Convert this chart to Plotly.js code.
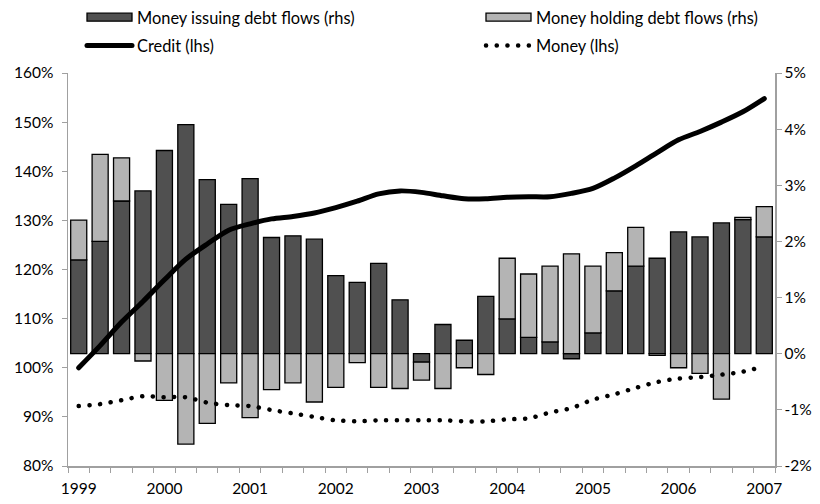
<!DOCTYPE html>
<html>
<head>
<meta charset="utf-8">
<script src="https://cdn.plot.ly/plotly-3.0.1.min.js"></script>
<style>
html,body{margin:0;padding:0;background:#fff;}
#chart{width:820px;height:504px;}
.js-line{stroke-linecap:round !important;stroke-linejoin:round !important;}
</style>
</head>
<body>
<div id="chart"></div>
<script>
// Quarterly categories, 1999Q1 .. 2007Q1
const quarters = [
  '1999Q1','1999Q2','1999Q3','1999Q4','2000Q1','2000Q2','2000Q3','2000Q4',
  '2001Q1','2001Q2','2001Q3','2001Q4','2002Q1','2002Q2','2002Q3','2002Q4',
  '2003Q1','2003Q2','2003Q3','2003Q4','2004Q1','2004Q2','2004Q3','2004Q4',
  '2005Q1','2005Q2','2005Q3','2005Q4','2006Q1','2006Q2','2006Q3','2006Q4',
  '2007Q1'
];
const yearLabels = ['1999','2000','2001','2002','2003','2004','2005','2006','2007'];

// Right-hand scale (% flows)
const moneyIssuing = [1.67, 2.00, 2.72, 2.90, 3.62, 4.08, 3.10, 2.66, 3.12, 2.07, 2.10, 2.04,
  1.39, 1.27, 1.61, 0.96, -0.15, 0.52, 0.24, 1.02, 0.62, 0.29, 0.21, -0.09,
  0.37, 1.12, 1.56, 1.70, 2.17, 2.08, 2.33, 2.39, 2.08];
const moneyHolding = [0.71, 1.55, 0.77, -0.13, -0.83, -1.61, -1.24, -0.52, -1.14, -0.64, -0.52, -0.86,
  -0.60, -0.16, -0.60, -0.62, -0.32, -0.62, -0.25, -0.37, 1.08, 1.13, 1.35, 1.78,
  1.19, 0.68, 0.69, -0.03, -0.25, -0.35, -0.81, 0.04, 0.54];

// Left-hand scale (%)
const credit = [100.0, 104.5, 109.3, 113.5, 117.9, 122.1, 125.2, 128.0, 129.3, 130.3, 130.8, 131.5,
  132.6, 133.9, 135.4, 136.0, 135.7, 135.0, 134.4, 134.4, 134.7, 134.8, 134.8, 135.5,
  136.5, 138.6, 141.1, 143.8, 146.4, 148.1, 150.0, 152.1, 154.8];
const money = [92.2, 92.6, 93.4, 94.2, 94.0, 94.0, 92.9, 92.4, 92.2, 91.4, 90.7, 90.0,
  89.3, 89.1, 89.3, 89.3, 89.3, 89.3, 89.1, 89.1, 89.5, 89.7, 90.9, 91.8,
  93.5, 94.6, 95.9, 97.1, 97.8, 98.1, 98.6, 99.2, 100.3];

const leftTicks = [80, 90, 100, 110, 120, 130, 140, 150, 160];
const leftTickText = ['80%','90%','100%','110%','120%','130%','140%','150%','160%'];
const rightTicks = [-2, -1, 0, 1, 2, 3, 4, 5];
const rightTickText = ['-2%','-1%','0%','1%','2%','3%','4%','5%'];

const xIdx = quarters.map((q, i) => i);
const yearTickVals = quarters.map((q, i) => q.endsWith('Q1') ? i : null).filter(v => v !== null);

const FONT = 'Lato, "Open Sans", sans-serif';
const AXC = '#a0a0a0';
const TICKFONT = {family: FONT, size: 15.5, color: '#000'};
const SWATCH_W = 45;

const traces = [
  {
    type: 'bar', name: 'Money issuing debt flows (rhs)', x: xIdx, y: moneyIssuing,
    yaxis: 'y', legend: 'legend', legendgroup: 'a',
    marker: {color: '#505050', line: {color: '#000', width: 1.3}}
  },
  {
    type: 'bar', name: 'Money holding debt flows (rhs)', x: xIdx, y: moneyHolding,
    yaxis: 'y', legend: 'legend2', legendgroup: 'b',
    marker: {color: '#b4b4b4', line: {color: '#000', width: 1.3}}
  },
  {
    type: 'scatter', mode: 'lines', name: 'Credit (lhs)', x: xIdx, y: credit,
    yaxis: 'y2', legend: 'legend', legendgroup: 'c',
    line: {color: '#000', width: 5, shape: 'spline', smoothing: 0.8}
  },
  {
    type: 'scatter', mode: 'lines', name: 'Money (lhs)', x: xIdx, y: money,
    yaxis: 'y2', legend: 'legend2', legendgroup: 'd',
    line: {color: '#000', width: 4.5, dash: '0.1px,10.6px', shape: 'spline', smoothing: 0.8}
  }
];

const legendBase = {
  orientation: 'v', xanchor: 'left', yanchor: 'top', yref: 'container', xref: 'container',
  font: {family: FONT, size: 16.4, color: '#000'}, bgcolor: 'rgba(0,0,0,0)',
  traceorder: 'grouped', tracegroupgap: 4, itemwidth: SWATCH_W
};

const layout = {
  width: 820, height: 504,
  margin: {l: 67.5, r: 45, t: 73, b: 38, autoexpand: false},
  paper_bgcolor: '#fff', plot_bgcolor: '#fff',
  font: {family: FONT, size: 15.5, color: '#000'},
  barmode: 'relative', bargap: 0.25,
  showlegend: true,
  legend: Object.assign({}, legendBase, {x: 82 / 820, y: 1.012}),
  legend2: Object.assign({}, legendBase, {x: 481 / 820, y: 1.012}),
  xaxis: {
    range: [-0.5, 32.5], tickmode: 'array', tickvals: yearTickVals, ticktext: yearLabels,
    ticks: '', showgrid: false, zeroline: false, tickangle: 0, ticklabelstandoff: 8,
    showline: true, linecolor: AXC, linewidth: 1.5,
    tickfont: TICKFONT,
    minor: {ticks: 'outside', tick0: -0.5, dtick: 1, ticklen: 5, tickcolor: AXC, tickwidth: 1, showgrid: false}
  },
  yaxis: {
    side: 'right', range: [-2, 5], tickmode: 'array', tickvals: rightTicks, ticktext: rightTickText,
    ticks: 'outside', ticklen: 5, tickcolor: AXC, tickwidth: 1,
    showline: true, linecolor: AXC, linewidth: 1.5,
    showgrid: false, zeroline: false,
    tickfont: TICKFONT
  },
  yaxis2: {
    overlaying: 'y', side: 'left', range: [80, 160], tickmode: 'array', tickvals: leftTicks, ticktext: leftTickText,
    ticks: 'outside', ticklen: 5, tickcolor: AXC, tickwidth: 1, ticklabelstandoff: 5,
    showline: true, linecolor: AXC, linewidth: 1.5,
    showgrid: false, zeroline: false,
    tickfont: TICKFONT
  }
};

Plotly.newPlot('chart', traces, layout, {staticPlot: true, displayModeBar: false}).then(function (gd) {
  // widen the bar legend swatches into flat rectangles like the original
  gd.querySelectorAll('g.legendpoints path').forEach(function (p) {
    const d = p.getAttribute('d') || '';
    if (/^M6,6H-6V-6H6Z/.test(d)) {
      const h = SWATCH_W / 2;
      p.setAttribute('d', 'M' + h + ',4H-' + h + 'V-4H' + h + 'Z');
    }
  });
});
</script>
</body>
</html>
